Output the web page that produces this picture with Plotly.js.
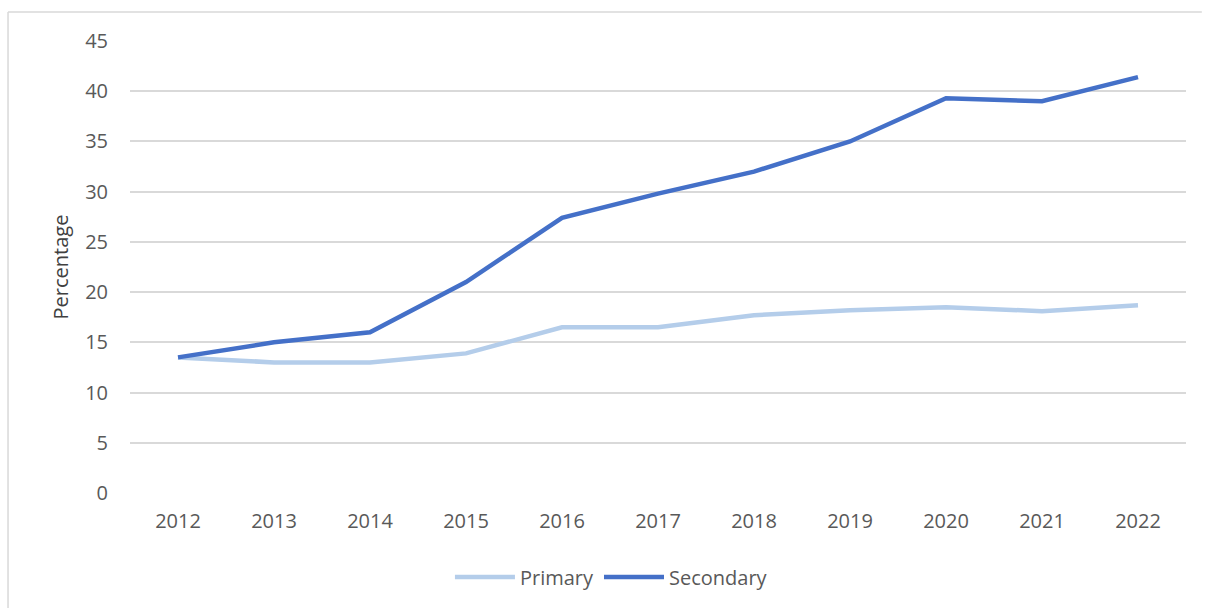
<!DOCTYPE html>
<html>
<head>
<meta charset="utf-8">
<script src="https://cdn.plot.ly/plotly-3.0.1.min.js"></script>
<style>html,body{margin:0;padding:0;background:#fff;}#chart{width:1206px;height:608px;}</style>
</head>
<body>
<div id="chart"></div>
<script>
const years = ['2012','2013','2014','2015','2016','2017','2018','2019','2020','2021','2022'];
const primary = [13.5, 13.0, 13.0, 13.9, 16.5, 16.5, 17.7, 18.2, 18.5, 18.1, 18.7];
const secondary = [13.5, 15.0, 16.0, 21.0, 27.4, 29.8, 32.0, 35.0, 39.3, 39.0, 41.4];
const yTicks = [0, 5, 10, 15, 20, 25, 30, 35, 40, 45];

const fontFam = '"Open Sans", "Noto Sans", sans-serif';
const traces = [
  {x: years, y: primary, name: 'Primary', type: 'scatter', mode: 'lines',
   line: {color: '#B4CDEA', width: 4.5}},
  {x: years, y: secondary, name: 'Secondary', type: 'scatter', mode: 'lines',
   line: {color: '#4470C8', width: 4.5}}
];
const layout = {
  width: 1206, height: 608,
  margin: {l: 130, r: 20, t: 41, b: 115},
  paper_bgcolor: '#ffffff', plot_bgcolor: '#ffffff',
  font: {family: fontFam, size: 20, color: '#595959'},
  showlegend: true,
  legend: {orientation: 'h', xref: 'container', yref: 'container', x: 0.507, y: 0.051,
           xanchor: 'center', yanchor: 'middle', font: {size: 20, color: '#595959'},
           itemwidth: 60, traceorder: 'normal'},
  xaxis: {type: 'category', range: [-0.5, 10.5], showgrid: false, zeroline: false,
          showline: false, ticks: '', ticklabelstandoff: 14, tickfont: {size: 20, color: '#595959'}},
  yaxis: {range: [0, 45], tickvals: yTicks, showgrid: true, gridcolor: '#D9D9D9', gridwidth: 1.5,
          zeroline: false, showline: false, ticks: '', ticklabelstandoff: 21,
          tickfont: {size: 20, color: '#595959'},
          title: {text: 'Percentage', font: {size: 20, color: '#404040'}, standoff: 11}},
  shapes: [
    {type: 'line', xref: 'paper', yref: 'paper', x0: -0.1155, x1: 1.015, y0: 1.0642, y1: 1.0642,
     line: {color: '#D9D9D9', width: 1.5}},
    {type: 'line', xref: 'paper', yref: 'paper', x0: -0.1155, x1: -0.1155, y0: -0.26, y1: 1.0642,
     line: {color: '#D9D9D9', width: 1.5}}
  ]
};
Plotly.newPlot('chart', traces, layout, {displayModeBar: false, responsive: false});
</script>
</body>
</html>
